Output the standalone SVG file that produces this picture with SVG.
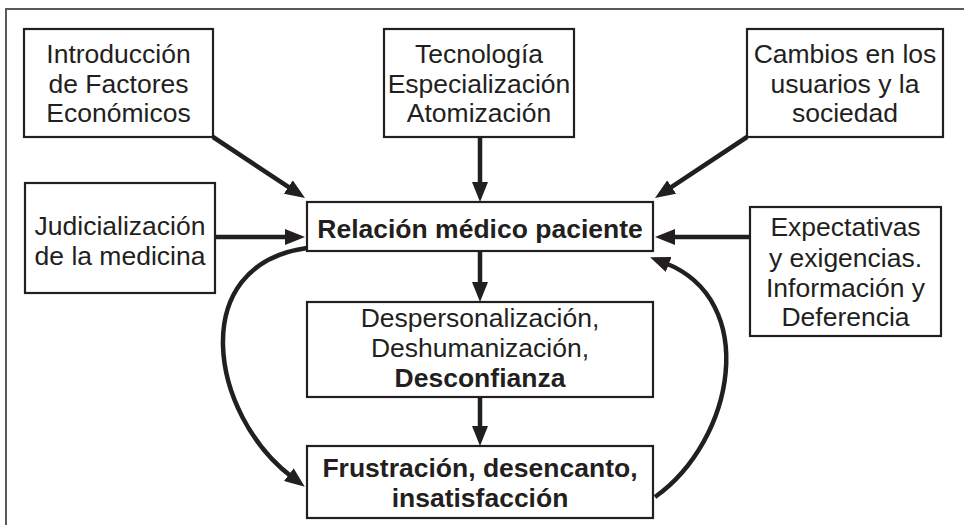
<svg xmlns="http://www.w3.org/2000/svg" width="964" height="525" viewBox="0 0 964 525">
<style>
.box{fill:#fff;stroke:#231f20;stroke-width:2.2}
.t{font-family:"Liberation Sans",Arial,sans-serif;font-size:26.5px;fill:#231f20;text-anchor:middle}
.b{font-weight:bold}
.c{fill:none;stroke:#231f20;stroke-width:4.5}
</style>
<defs>
<marker id="ah" viewBox="0 0 20 16" markerWidth="20" markerHeight="16" refX="4" refY="8" orient="auto" markerUnits="userSpaceOnUse">
<path d="M0,0 L20,8 L0,16 z" fill="#231f20"/>
</marker>
</defs>
<rect width="964" height="525" fill="#fff"/>
<path d="M6,525 V9 H964" fill="none" stroke="#5a5a5c" stroke-width="2"/>
<g id="connectors">
<line class="c" x1="213" y1="137" x2="291.7" y2="189.2" marker-end="url(#ah)"/>
<line class="c" x1="480" y1="137" x2="480" y2="186" marker-end="url(#ah)"/>
<line class="c" x1="747" y1="137" x2="668.3" y2="189.2" marker-end="url(#ah)"/>
<line class="c" x1="215" y1="237" x2="289" y2="237" marker-end="url(#ah)"/>
<line class="c" x1="750" y1="237" x2="671" y2="237" marker-end="url(#ah)"/>
<line class="c" x1="480" y1="251" x2="480" y2="286" marker-end="url(#ah)"/>
<line class="c" x1="480" y1="397" x2="480" y2="430" marker-end="url(#ah)"/>
<path class="c" d="M307,248 C185,265 210,415 292,477" marker-end="url(#ah)"/>
<path class="c" d="M655,497 C735,440 760,300 665,263" marker-end="url(#ah)"/>
</g>
<g id="n-intro">
<rect class="box" x="24" y="29" width="189" height="108"/>
<text class="t" x="118.5" y="63">Introducción</text>
<text class="t" x="118.5" y="93">de Factores</text>
<text class="t" x="118.5" y="122">Económicos</text>
</g>
<g id="n-tecno">
<rect class="box" x="384" y="29" width="190" height="108"/>
<text class="t" x="479" y="63">Tecnología</text>
<text class="t" x="479" y="93">Especialización</text>
<text class="t" x="479" y="122">Atomización</text>
</g>
<g id="n-cambios">
<rect class="box" x="747" y="29" width="196" height="108"/>
<text class="t" x="845" y="63">Cambios en los</text>
<text class="t" x="845" y="93">usuarios y la</text>
<text class="t" x="845" y="122">sociedad</text>
</g>
<g id="n-judicial">
<rect class="box" x="25" y="183" width="190" height="110"/>
<text class="t" x="120" y="235">Judicialización</text>
<text class="t" x="120" y="265">de la medicina</text>
</g>
<g id="n-relacion">
<rect class="box" x="307" y="202" width="346" height="49"/>
<text class="t b" x="480" y="238">Relación médico paciente</text>
</g>
<g id="n-expect">
<rect class="box" x="750" y="207" width="191" height="129"/>
<text class="t" x="845.5" y="236">Expectativas</text>
<text class="t" x="845.5" y="267">y exigencias.</text>
<text class="t" x="845.5" y="297">Información y</text>
<text class="t" x="845.5" y="326">Deferencia</text>
</g>
<g id="n-desp">
<rect class="box" x="307" y="302" width="346" height="95"/>
<text class="t" x="480" y="327">Despersonalización,</text>
<text class="t" x="480" y="357">Deshumanización,</text>
<text class="t b" x="480" y="387">Desconfianza</text>
</g>
<g id="n-frust">
<rect class="box" x="307" y="446" width="346" height="72"/>
<text class="t b" x="480" y="477">Frustración, desencanto,</text>
<text class="t b" x="480" y="507">insatisfacción</text>
</g>
</svg>
